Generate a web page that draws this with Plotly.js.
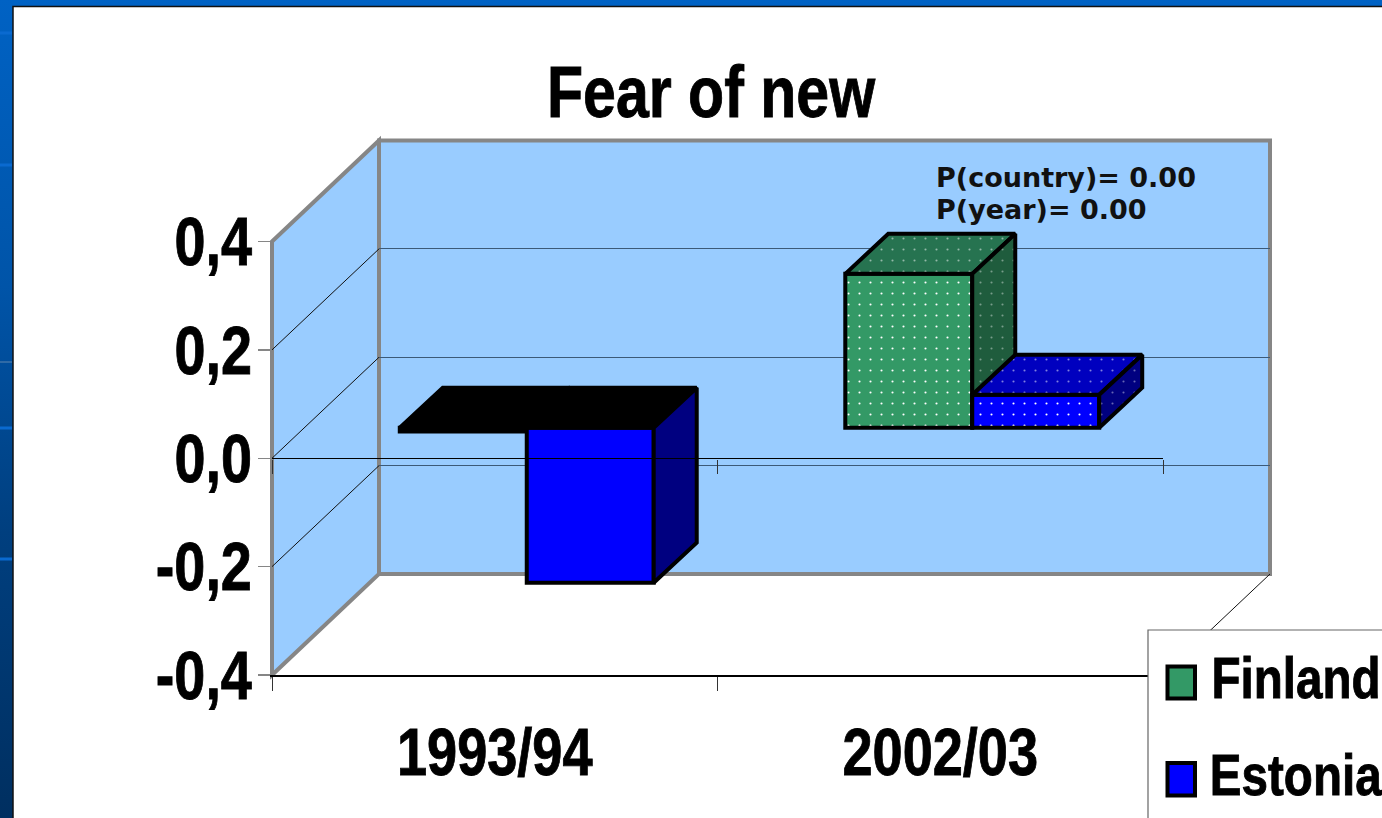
<!DOCTYPE html>
<html><head><meta charset="utf-8">
<script src="https://cdn.plot.ly/plotly-3.0.1.min.js"></script>
<style>
html,body{margin:0;padding:0;overflow:hidden;width:1382px;height:818px;background:linear-gradient(180deg,#0062c4 0%,#0054a8 35%,#003f7f 65%,#002f60 100%);}
#chart{width:1382px;height:818px;}
</style></head><body><div id="chart"></div>
<script>
const chartTitle = 'Fear of new';
const years = ['1993/94','2002/03'];
const finland = [-0.007, 0.284];
const estonia = [-0.286, 0.061];
const yTicks = [-0.4,-0.2,0,0.2,0.4];
const yTickLabels = ['-0,4','-0,2','0,0','0,2','0,4'];
const notes = ['P(country)= 0.00','P(year)= 0.00'];
const seriesNames = ['Finland','Estonia'];

const W=1382,H=818;
const PX=p=>p/W, PY=p=>1-p/H;
const L=272,R=1163,T=241.5,B=675;
const backDX=107, backDY=101, barDX=32, barDY=30.5, depthDX=43, depthDY=40;
const unitX=(R-L)/2, unitY=(B-T)/0.8, barW=0.285;
const gray='#868686', wall='#99ccff', sans='"Liberation Sans",Arial,sans-serif';
const EDGE=4;
const dots=(fg,bg)=>({shape:'.',fgcolor:fg,bgcolor:bg,size:11,solidity:0.03});
const dx=depthDX/unitX, dy=depthDY/unitY;

function bar3d(name,vals,off,front,top,side,ax){
  const out=[{type:'bar',name,x:vals.map((_,i)=>i),y:vals,width:barW,offset:off,xaxis:'x'+ax,yaxis:'y'+ax,
    marker:{color:front,line:{color:'#000',width:EDGE},pattern:{shape:vals.map((v,i)=>i===1?'.':''),fgcolor:'#fff',bgcolor:front,size:11,solidity:0.03}},
    showlegend:false,hoverinfo:'skip'}];
  vals.forEach((v,i)=>{
    const x0=i+off,x1=x0+barW,h=Math.max(v,0),l=Math.min(v,0),dotted=i===1;
    const face=(xs,ys,col,p)=>{const t={type:'scatter',mode:'lines',x:xs,y:ys,fill:'toself',fillcolor:col,xaxis:'x'+ax,yaxis:'y'+ax,
      line:{color:'#000',width:EDGE,shape:'linear'},showlegend:false,hoverinfo:'skip'};
      if(p)t.fillpattern=p; out.push(t);};
    face([x0,x0+dx,x1+dx,x1,x0],[h,h+dy,h+dy,h,h],v<0?'#000':top,dotted?dots('rgba(255,255,255,0.5)',top):null);
    face([x1,x1+dx,x1+dx,x1,x1],[h,h+dy,l+dy,l,h],side,dotted?dots('rgba(255,255,255,0.4)',side):null);
  });
  return out;
}
const data=[
 {type:'scatter',x:[],y:[],xaxis:'x',yaxis:'y',showlegend:false},
 ...bar3d(seriesNames[0],finland,-barW,'#339966','#267350','#1f5c3d',2),
 ...bar3d(seriesNames[1],estonia,0,'#0000ff','#0000bf','#000080',3),
 {type:'scatter',x:[],y:[],xaxis:'x4',yaxis:'y4',showlegend:false},
 {type:'scatter',x:[],y:[],xaxis:'x5',yaxis:'y4',showlegend:false}
];
const plane=(sx,sy)=>({x:[PX(L+sx),PX(R+sx)],y:[PY(B-sy),PY(T-sy)]});
const hidden=(d,extra)=>Object.assign({domain:d,range:extra.r,showticklabels:false,ticks:'',showgrid:false,zeroline:false,showline:false,fixedrange:true},extra.o||{});
const pB=plane(backDX,backDY), pM=plane(barDX,barDY), pF=plane(0,0);
const xr=[-0.5,1.5], yr=[-0.4,0.4];
const bold=(size,color)=>({family:sans,size,color:color||'#000',weight:700});
const layout={
 width:W,height:H,margin:{l:0,r:0,t:0,b:0,autoexpand:false},paper_bgcolor:'rgba(0,0,0,0)',plot_bgcolor:'rgba(0,0,0,0)',
 showlegend:false,
 xaxis:hidden(pB.x,{r:xr,o:{anchor:'y'}}),
 yaxis:hidden(pB.y,{r:yr,o:{anchor:'x',showgrid:true,gridcolor:'#3c5a78',gridwidth:1.2,tickmode:'array',tickvals:[-0.2,0,0.2]}}),
 xaxis2:hidden(pM.x,{r:xr,o:{anchor:'y2'}}), yaxis2:hidden(pM.y,{r:yr,o:{anchor:'x2'}}),
 xaxis3:hidden(pM.x,{r:xr,o:{anchor:'y3'}}), yaxis3:hidden(pM.y,{r:yr,o:{anchor:'x3'}}),
 xaxis4:{domain:pF.x,range:xr,anchor:'y4',fixedrange:true,showgrid:false,zeroline:false,showline:true,linecolor:'#000',linewidth:1.5,
   tickmode:'array',tickvals:years.map((_,i)=>i),ticktext:years,ticks:'',ticklabelstandoff:19,
   tickfont:bold(66),
   minor:{ticks:'outside',tickmode:'array',tickvals:[-0.5,0.5,1.5],ticklen:14,tickcolor:'#333',tickwidth:1,showgrid:false}},
 yaxis4:{domain:pF.y,range:yr,anchor:'x4',fixedrange:true,showgrid:false,zeroline:true,zerolinecolor:'#000',zerolinewidth:1.5,
   showline:true,linecolor:gray,linewidth:2.5,tickmode:'array',tickvals:yTicks,ticktext:yTickLabels,ticks:'outside',ticklen:12,tickcolor:gray,tickwidth:1.5,
   ticklabelstandoff:-8,tickfont:bold(68)},
 xaxis5:{domain:pF.x,range:xr,anchor:'free',position:PY(458.5),fixedrange:true,showgrid:false,zeroline:false,showline:false,showticklabels:false,
   tickmode:'array',tickvals:[-0.5,0.5,1.5],ticks:'outside',ticklen:14,tickcolor:'#333',tickwidth:1},
 shapes:[
  {type:'rect',xref:'paper',yref:'paper',x0:PX(13),x1:1.02,y0:-0.02,y1:PY(6.5),fillcolor:'#fff',line:{color:'#111',width:1.5},layer:'below'},
  ...[[33,'#0a6ad0',3],[165,'#0a6ad0',3],[362,'#5f87b0',1],[428,'#0a6ad0',3],[559,'#0a6ad0',3]].map(s=>({type:'line',xref:'paper',yref:'paper',x0:0,x1:PX(12),y0:PY(s[0]),y1:PY(s[0]),line:{color:s[1],width:s[2]},layer:'below'})),
  {type:'path',xref:'paper',yref:'paper',path:`M${PX(L)},${PY(T)}L${PX(L+backDX)},${PY(T-backDY)}L${PX(L+backDX)},${PY(B-backDY)}L${PX(L)},${PY(B)}Z`,fillcolor:wall,line:{color:gray,width:4},layer:'below'},
  {type:'rect',xref:'paper',yref:'paper',x0:PX(L+backDX),x1:PX(R+backDX),y0:PY(B-backDY),y1:PY(T-backDY),fillcolor:wall,line:{color:gray,width:4},layer:'below'},
  ...[-0.2,0,0.2].map(v=>{const y=T+(0.4-v)*unitY;return {type:'line',xref:'paper',yref:'paper',x0:PX(L),x1:PX(L+backDX),y0:PY(y),y1:PY(y-backDY),line:{color:'#111',width:1},layer:'below'};}),
  {type:'line',xref:'paper',yref:'paper',x0:PX(R),x1:PX(R+backDX),y0:PY(B),y1:PY(B-backDY),line:{color:'#111',width:1},layer:'below'},
  {type:'rect',xref:'paper',yref:'paper',x0:PX(1148),x1:1.05,y0:-0.05,y1:PY(630),fillcolor:'#fff',line:{color:'#666',width:1.2},layer:'above'},
  {type:'rect',xref:'paper',yref:'paper',x0:PX(1167.5),x1:PX(1195),y0:PY(698.5),y1:PY(666.5),fillcolor:'#339966',line:{color:'#000',width:EDGE},layer:'above'},
  {type:'rect',xref:'paper',yref:'paper',x0:PX(1167.5),x1:PX(1195),y0:PY(795.5),y1:PY(763),fillcolor:'#0000ff',line:{color:'#000',width:EDGE},layer:'above'}
 ],
 annotations:[
  {xref:'paper',yref:'paper',x:PX(711),y:PY(92),xanchor:'center',yanchor:'middle',text:chartTitle,showarrow:false,font:bold(72)},
  {xref:'paper',yref:'paper',x:PX(934),y:PY(178),xanchor:'left',yanchor:'middle',text:notes[0],showarrow:false,font:{family:'"DejaVu Sans"',size:27,color:'#111',weight:700}},
  {xref:'paper',yref:'paper',x:PX(934),y:PY(209),xanchor:'left',yanchor:'middle',text:notes[1],showarrow:false,font:{family:'"DejaVu Sans"',size:27,color:'#111',weight:700}},
  {xref:'paper',yref:'paper',x:PX(1296),y:PY(677),xanchor:'center',yanchor:'middle',text:seriesNames[0],showarrow:false,font:bold(58)},
  {xref:'paper',yref:'paper',x:PX(1296),y:PY(774),xanchor:'center',yanchor:'middle',text:seriesNames[1],showarrow:false,font:bold(58)}
 ]
};
function squeeze(root,factor,filter){
  root.querySelectorAll('text').forEach(t=>{
    if(!filter(t))return;
    const len=t.getComputedTextLength();
    t.setAttribute('textLength',(len*factor).toFixed(1));
    t.setAttribute('lengthAdjust','spacingAndGlyphs');
    t.style.stroke='#000';
    t.style.strokeWidth='0.9px';
  });
}
Plotly.newPlot('chart',data,layout,{displayModeBar:false,staticPlot:true}).then(gd=>{
  squeeze(gd,0.82,t=>{const s=t.textContent;return s&&!s.startsWith('P(');});
});
</script></body></html>
